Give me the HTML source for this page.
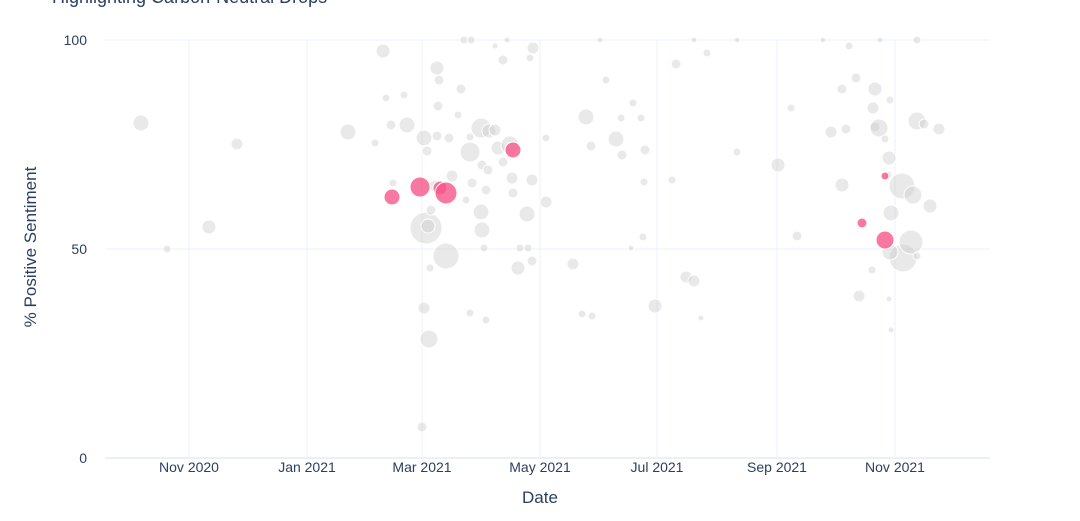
<!DOCTYPE html>
<html><head><meta charset="utf-8"><style>
body{margin:0;background:#fff}
svg text{font-family:"Liberation Sans",sans-serif;fill:#2a3f5f}
</style></head><body>
<svg width="1080" height="516" xmlns="http://www.w3.org/2000/svg">
<text x="52" y="3" font-size="18">Highlighting Carbon-Neutral Drops</text>
<g stroke="#ebf0f8" stroke-width="1">
<line x1="105" x2="990" y1="40" y2="40"/><line x1="105" x2="990" y1="249" y2="249"/>
<line x1="189" x2="189" y1="40" y2="458"/><line x1="307" x2="307" y1="40" y2="458"/><line x1="422" x2="422" y1="40" y2="458"/><line x1="540" x2="540" y1="40" y2="458"/><line x1="657" x2="657" y1="40" y2="458"/><line x1="777" x2="777" y1="40" y2="458"/><line x1="895" x2="895" y1="40" y2="458"/>
</g>
<line x1="105" x2="990" y1="458" y2="458" stroke="#ebf0f8" stroke-width="2"/>
<g font-size="14" text-anchor="end"><text x="87" y="45">100</text><text x="87" y="254">50</text><text x="87" y="463">0</text></g>
<g font-size="14" text-anchor="middle"><text x="189" y="472">Nov 2020</text><text x="307" y="472">Jan 2021</text><text x="422" y="472">Mar 2021</text><text x="540" y="472">May 2021</text><text x="657" y="472">Jul 2021</text><text x="777" y="472">Sep 2021</text><text x="895" y="472">Nov 2021</text></g>
<text x="540" y="503" font-size="17" text-anchor="middle">Date</text>
<text transform="translate(36,247) rotate(-90)" font-size="17" text-anchor="middle">% Positive Sentiment</text>
<g fill="#c8c8c8" fill-opacity="0.4" stroke="#fff" stroke-width="1">
<circle cx="141" cy="123" r="8"/><circle cx="167" cy="249" r="4"/><circle cx="209" cy="227" r="7"/><circle cx="237" cy="144" r="6"/><circle cx="348" cy="132" r="8"/><circle cx="383" cy="51" r="7"/><circle cx="386" cy="98" r="4"/><circle cx="391" cy="125" r="5"/><circle cx="375" cy="143" r="4"/><circle cx="404" cy="95" r="4"/><circle cx="407" cy="125" r="8"/><circle cx="393" cy="183" r="4"/><circle cx="424" cy="138" r="8"/><circle cx="427" cy="151" r="5"/><circle cx="437" cy="68" r="7"/><circle cx="439" cy="80" r="5"/><circle cx="438" cy="106" r="5"/><circle cx="437" cy="136" r="5"/><circle cx="426" cy="228" r="16"/><circle cx="428" cy="226" r="7"/><circle cx="431" cy="210" r="5"/><circle cx="435" cy="186" r="6"/><circle cx="430" cy="268" r="4"/><circle cx="424" cy="308" r="6"/><circle cx="429" cy="339" r="9"/><circle cx="422" cy="427" r="5"/><circle cx="446" cy="256" r="13"/><circle cx="449" cy="138" r="5"/><circle cx="458" cy="115" r="4"/><circle cx="464" cy="40" r="4"/><circle cx="471" cy="40" r="4"/><circle cx="461" cy="89" r="5"/><circle cx="470" cy="152" r="10"/><circle cx="470" cy="137" r="4"/><circle cx="481" cy="128" r="10"/><circle cx="489" cy="131" r="7"/><circle cx="481" cy="212" r="8"/><circle cx="482" cy="230" r="8"/><circle cx="482" cy="165" r="5"/><circle cx="488" cy="170" r="5"/><circle cx="486" cy="190" r="5"/><circle cx="470" cy="313" r="4"/><circle cx="486" cy="320" r="4"/><circle cx="484" cy="248" r="4"/><circle cx="466" cy="200" r="4"/><circle cx="472" cy="183" r="5"/><circle cx="495" cy="46" r="3"/><circle cx="507" cy="40" r="3"/><circle cx="503" cy="60" r="5"/><circle cx="530" cy="58" r="4"/><circle cx="533" cy="48" r="6"/><circle cx="498" cy="148" r="7"/><circle cx="503" cy="162" r="5"/><circle cx="512" cy="178" r="6"/><circle cx="513" cy="193" r="5"/><circle cx="527" cy="214" r="8"/><circle cx="532" cy="180" r="6"/><circle cx="518" cy="268" r="7"/><circle cx="520" cy="248" r="4"/><circle cx="528" cy="248" r="4"/><circle cx="532" cy="261" r="5"/><circle cx="546" cy="202" r="6"/><circle cx="546" cy="138" r="4"/><circle cx="573" cy="264" r="6"/><circle cx="586" cy="117" r="8"/><circle cx="591" cy="146" r="5"/><circle cx="582" cy="314" r="4"/><circle cx="592" cy="316" r="4"/><circle cx="600" cy="40" r="3"/><circle cx="606" cy="80" r="4"/><circle cx="616" cy="139" r="8"/><circle cx="621" cy="118" r="4"/><circle cx="622" cy="155" r="5"/><circle cx="633" cy="103" r="4"/><circle cx="641" cy="118" r="4"/><circle cx="645" cy="150" r="5"/><circle cx="644" cy="182" r="4"/><circle cx="643" cy="237" r="4"/><circle cx="631" cy="248" r="3"/><circle cx="655" cy="306" r="7"/><circle cx="676" cy="64" r="5"/><circle cx="672" cy="180" r="4"/><circle cx="686" cy="277" r="6"/><circle cx="694" cy="281" r="6"/><circle cx="701" cy="318" r="3"/><circle cx="694" cy="40" r="3"/><circle cx="707" cy="53" r="4"/><circle cx="737" cy="40" r="3"/><circle cx="737" cy="152" r="4"/><circle cx="778" cy="165" r="7"/><circle cx="791" cy="108" r="4"/><circle cx="797" cy="236" r="5"/><circle cx="831" cy="132" r="6"/><circle cx="842" cy="89" r="5"/><circle cx="846" cy="129" r="5"/><circle cx="849" cy="46" r="4"/><circle cx="856" cy="78" r="5"/><circle cx="875" cy="89" r="7"/><circle cx="873" cy="108" r="6"/><circle cx="875" cy="127" r="5"/><circle cx="879" cy="128" r="9"/><circle cx="880" cy="40" r="3"/><circle cx="885" cy="139" r="4"/><circle cx="890" cy="100" r="4"/><circle cx="889" cy="158" r="7"/><circle cx="888" cy="175" r="4"/><circle cx="902" cy="186" r="13"/><circle cx="913" cy="195" r="9"/><circle cx="930" cy="206" r="7"/><circle cx="917" cy="121" r="9"/><circle cx="924" cy="124" r="5"/><circle cx="939" cy="129" r="6"/><circle cx="891" cy="213" r="8"/><circle cx="903" cy="258" r="14"/><circle cx="911" cy="242" r="12"/><circle cx="890" cy="252" r="8"/><circle cx="872" cy="270" r="4"/><circle cx="859" cy="296" r="6"/><circle cx="889" cy="299" r="3"/><circle cx="891" cy="330" r="3"/><circle cx="917" cy="256" r="4"/><circle cx="917" cy="40" r="4"/><circle cx="842" cy="185" r="7"/><circle cx="823" cy="40" r="3"/><circle cx="510" cy="145" r="9"/><circle cx="452" cy="176" r="6"/><circle cx="495" cy="130" r="6"/>
</g>
<g fill="#f7568a" fill-opacity="0.8" stroke="#fff" stroke-width="1">
<circle cx="392" cy="197" r="8"/><circle cx="420" cy="187" r="10"/><circle cx="440" cy="188" r="7"/><circle cx="446" cy="193" r="11"/><circle cx="513" cy="150" r="8"/><circle cx="862" cy="223" r="5"/><circle cx="885" cy="176" r="4"/><circle cx="885" cy="240" r="9"/>
</g>
</svg>
</body></html>
